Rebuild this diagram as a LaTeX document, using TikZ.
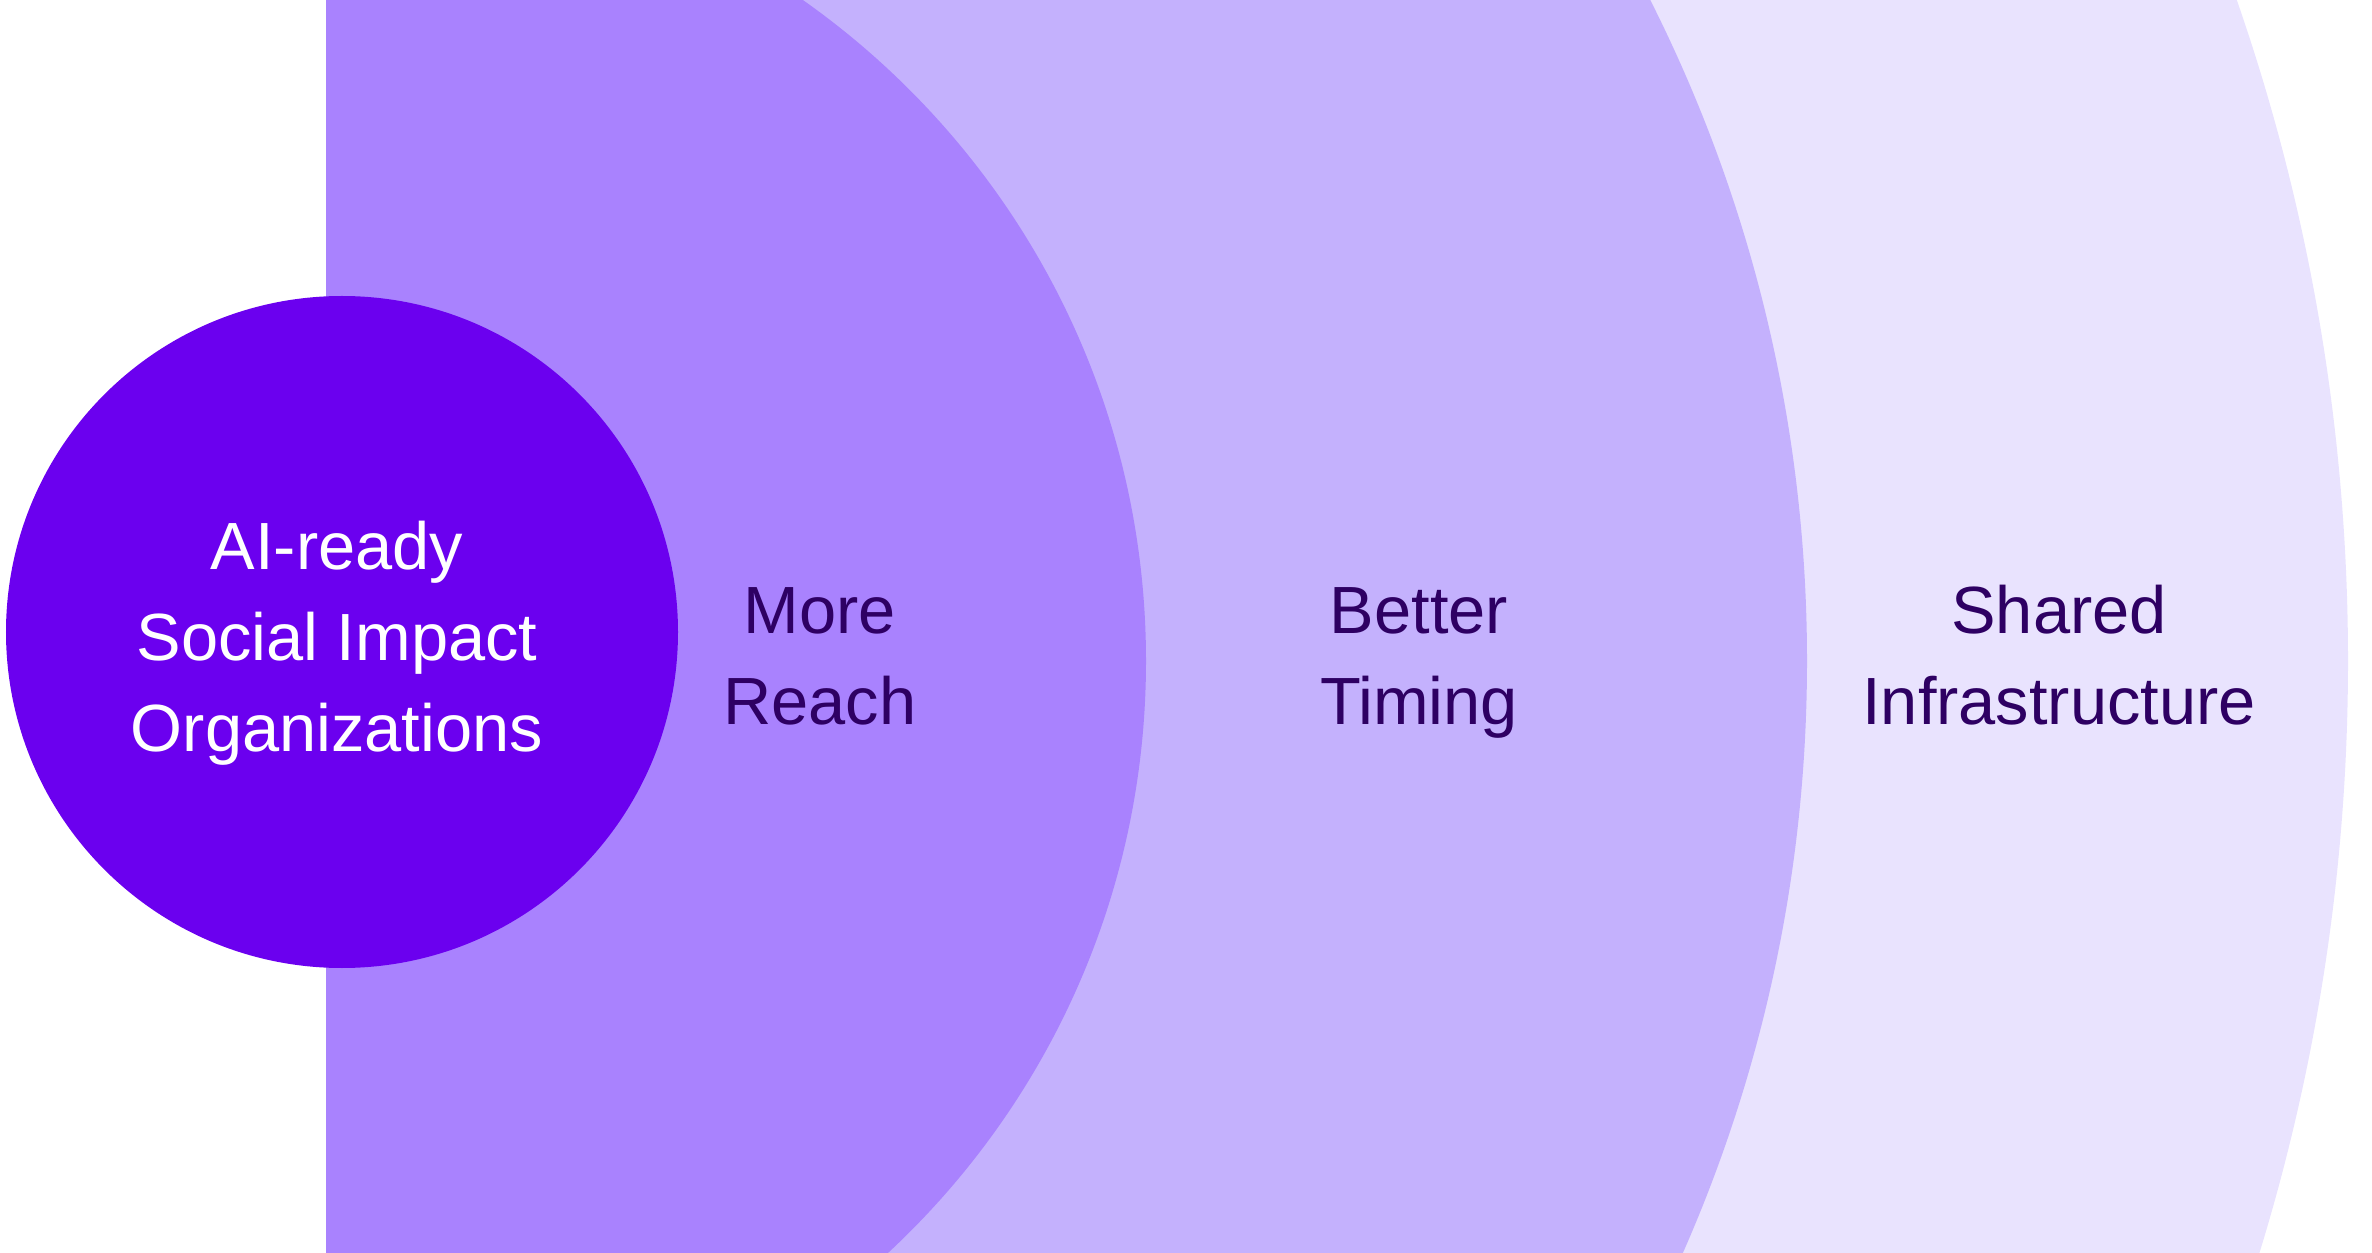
\documentclass[tikz,border=0pt]{standalone}
\usepackage{fontspec}
\setmainfont{Liberation Sans}
\usepackage{tikz}
\definecolor{corepurple}{HTML}{6B00EF}
\definecolor{ringone}{HTML}{A982FE}
\definecolor{ringtwo}{HTML}{C4B1FD}
\definecolor{ringthree}{HTML}{E9E3FE}
\definecolor{labelink}{HTML}{2E0063}
\newcommand{\ringclip}{\clip (3.26,0) rectangle (23.72,12.52);}

\begin{document}
\begin{tikzpicture}[ringlabel/.style={text=labelink, align=center, inner sep=0pt,
        font=\fontsize{19pt}{25.9pt}\selectfont}]
    \useasboundingbox (0,0) rectangle (23.72,12.52);
    \begin{scope}
        \ringclip
        \fill[ringthree] (3.38,5.91) circle (20.10cm);
        \fill[ringtwo] (3.38,5.91) circle (14.69cm);
        \fill[ringone] (3.38,5.91) circle (8.08cm);
    \end{scope}
    \fill[corepurple] (3.42,6.20) circle (3.36cm);
    \node[ringlabel, text=white, anchor=base] (core) at (3.37,5.00) {AI-ready\\Social Impact\\Organizations};
    \node[ringlabel, anchor=base] (reach) at (8.20,5.27) {More\\Reach};
    \node[ringlabel, anchor=base] (timing) at (14.19,5.27) {Better\\Timing};
    \node[ringlabel, anchor=base] (infra) at (20.59,5.27) {Shared\\Infrastructure};
\end{tikzpicture}
\end{document}
